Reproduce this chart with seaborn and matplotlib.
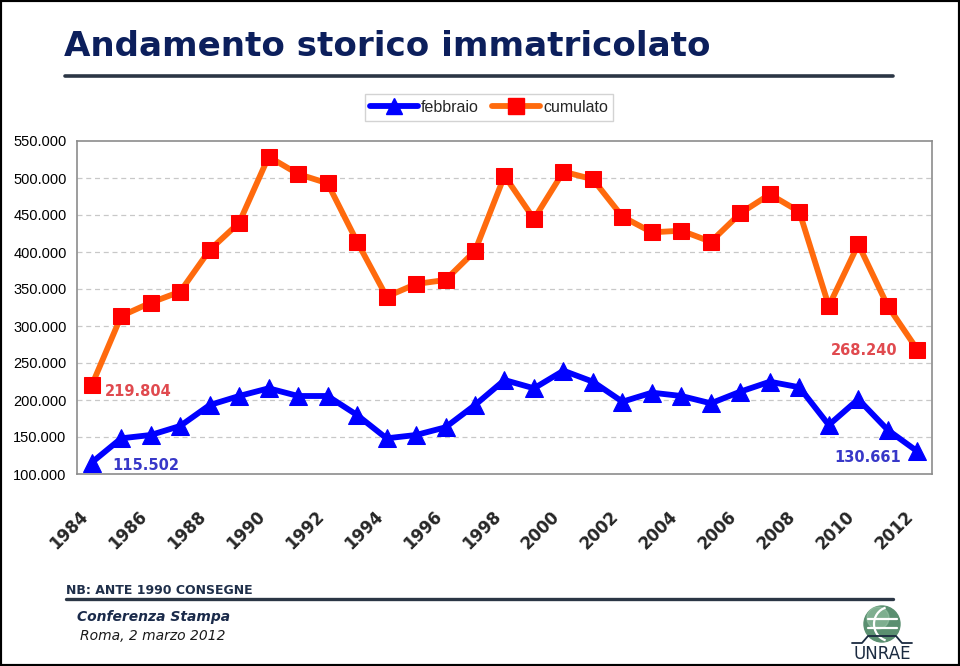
import numpy as np
import pandas as pd
import matplotlib
matplotlib.use("Agg")
import matplotlib.pyplot as plt
import seaborn as sns
from matplotlib.patches import Rectangle, Circle, Arc
from matplotlib.lines import Line2D
from matplotlib.ticker import FuncFormatter, FixedLocator

# ---------------- data ----------------
years = list(range(1984, 2013))
febbraio = [115502, 148200, 152700, 164900, 193200, 205400, 215800, 205400,
            205400, 179700, 148200, 152700, 163100, 193200, 227000, 215800,
            239600, 224700, 197700, 209900, 205400, 195500, 211300, 224700,
            217200, 166200, 201000, 159500, 130661]
cumulato = [219804, 313500, 331500, 346400, 402700, 439600, 528800, 505400,
            492800, 413900, 339600, 356800, 362200, 401400, 503100, 444600,
            508600, 498200, 447700, 426600, 428800, 413900, 452300, 478000,
            454500, 327000, 410400, 327000, 268240]
series_names = ["febbraio", "cumulato"]
year_labels = [str(y) for y in range(1984, 2013, 2)]
y_ticks = list(range(100000, 550001, 50000))

df = pd.DataFrame({"anno": years, "febbraio": febbraio, "cumulato": cumulato})

# ---------------- figure ----------------
sns.set_style("white")
plt.rcParams["font.family"] = ["DejaVu Sans"]

W, H = 960, 666
fig = plt.figure(figsize=(W / 100, H / 100), dpi=100)

def fx(px):
    return px / W

def fy(py):
    return 1 - py / H

left, right, top, bottom = 77, 932, 141, 474
ax = fig.add_axes([fx(left), fy(bottom), fx(right - left), (bottom - top) / H])

BLUE = "#0000ff"
ORANGE = "#ff6a0d"
RED = "#ff0000"

sns.lineplot(data=df, x="anno", y="febbraio", ax=ax, color=BLUE, linewidth=4.2,
             marker="^", markersize=13, markerfacecolor=BLUE,
             markeredgecolor=BLUE, zorder=3)
sns.lineplot(data=df, x="anno", y="cumulato", ax=ax, color=ORANGE, linewidth=4.2,
             marker="s", markersize=11.5, markerfacecolor=RED,
             markeredgecolor=RED, zorder=3)

ax.set_xlim(1983.5, 2012.5)
ax.set_ylim(100000, 550000)
ax.set_xlabel("")
ax.set_ylabel("")

# y axis
ax.yaxis.set_major_locator(FixedLocator(y_ticks))
ax.yaxis.set_major_formatter(FuncFormatter(lambda v, _: f"{int(v):,}".replace(",", ".")))
ax.tick_params(axis="y", length=4, width=1, color="#8c8c8c", pad=3.5,
               labelsize=10.5, labelcolor="black")
for lab in ax.get_yticklabels():
    lab.set_family("Liberation Sans")

# x axis
ax.set_xticks(list(range(1984, 2013, 2)))
ax.set_xticklabels(year_labels, rotation=45, ha="right", va="top",
                   fontsize=12, fontweight="bold")
ax.set_xticks(list(np.arange(1983.5, 2013, 1.0)), minor=True)
ax.tick_params(axis="x", which="major", length=0, pad=24)
ax.tick_params(axis="x", which="minor", length=4, width=1, color="#8c8c8c",
               direction="out")

# grid
for v in y_ticks[1:-1]:
    ax.axhline(v, color="#c8c8c8", linewidth=0.9, linestyle=(0, (4, 3)), zorder=1)
for s in ax.spines.values():
    s.set_color("#8c8c8c")
    s.set_linewidth(1.2)

# annotations
def px2pt(p):
    return p * 0.72

ax.annotate("219.804", xy=(1984, cumulato[0]), xytext=(px2pt(13), px2pt(-6)),
            textcoords="offset points", ha="left", va="center",
            fontsize=10.5, fontweight="bold", color="#e04a4f")
ax.annotate("115.502", xy=(1984, febbraio[0]), xytext=(px2pt(21), px2pt(-3)),
            textcoords="offset points", ha="left", va="center",
            fontsize=10.5, fontweight="bold", color="#3838c8")
ax.annotate("268.240", xy=(2012, cumulato[-1]), xytext=(px2pt(-20), px2pt(-1)),
            textcoords="offset points", ha="right", va="center",
            fontsize=10.5, fontweight="bold", color="#e04a4f")
ax.annotate("130.661", xy=(2012, febbraio[-1]), xytext=(px2pt(-16), px2pt(-6)),
            textcoords="offset points", ha="right", va="center",
            fontsize=10.5, fontweight="bold", color="#3838c8")

# legend
handles = [
    Line2D([], [], color=BLUE, linewidth=4.2, marker="^", markersize=12,
           markerfacecolor=BLUE, markeredgecolor=BLUE),
    Line2D([], [], color=ORANGE, linewidth=4.2, marker="s", markersize=11,
           markerfacecolor=RED, markeredgecolor=RED),
]
leg = fig.legend(handles, series_names, loc="center",
                 bbox_to_anchor=(fx(489), fy(107.5)), ncol=2, frameon=True,
                 fancybox=False, edgecolor="#c8c8c8", handlelength=3.0,
                 handletextpad=0.2, columnspacing=0.8, borderpad=0.35,
                 prop={"family": "Liberation Sans", "size": 11.5})
leg.get_frame().set_linewidth(1.0)

# title and decorations
fig.text(fx(64), fy(46), "Andamento storico immatricolato", ha="left", va="center",
         fontsize=24.6, fontweight="bold", color="#0c1f5c", family="DejaVu Sans")
fig.add_artist(Line2D([fx(65), fx(893)], [fy(76), fy(76)], color="#2b3645",
                      linewidth=2.6))

fig.text(fx(66), fy(590), "NB: ANTE 1990 CONSEGNE", ha="left", va="center",
         fontsize=9, fontweight="bold", color="#1f2f4a")
fig.add_artist(Line2D([fx(66), fx(893)], [fy(599), fy(599)], color="#2b3645",
                      linewidth=2.4))
fig.text(fx(77), fy(617), "Conferenza Stampa", ha="left", va="center",
         fontsize=10, fontweight="bold", style="italic", color="#1a2a4a")
fig.text(fx(80), fy(636), "Roma, 2 marzo 2012", ha="left", va="center",
         fontsize=10, style="italic", color="#1a1a1a")

# logo
lax = fig.add_axes([fx(846), fy(666), fx(74), 68 / H])
lax.set_xlim(846, 920)
lax.set_ylim(666, 598)
lax.axis("off")
lax.add_patch(Circle((882, 624), 18, color="#5a8f70", zorder=1))
lax.add_patch(Circle((878, 618), 11, color="#9cc8aa", zorder=1, alpha=0.55))
lax.add_patch(Arc((890, 624), 32, 34, theta1=105, theta2=255, color="white", lw=1.6, zorder=2))
lax.plot([868, 897], [619, 619], color="white", lw=1.6, zorder=2)
lax.plot([868, 897], [628, 628], color="white", lw=1.6, zorder=2)
lax.plot([852, 862, 868, 896, 902, 912],
         [643, 643, 636, 636, 643, 643], color="#1a2a40", lw=1.3, zorder=3)
lax.text(882, 654, "UNRAE", ha="center", va="center", fontsize=12,
         color="#1a2a40", family="DejaVu Sans")

# outer frame
fig.add_artist(Rectangle((0, 0), 1, 1, transform=fig.transFigure, fill=False,
                         edgecolor="black", linewidth=3))

fig.savefig("out.png", dpi=100)
